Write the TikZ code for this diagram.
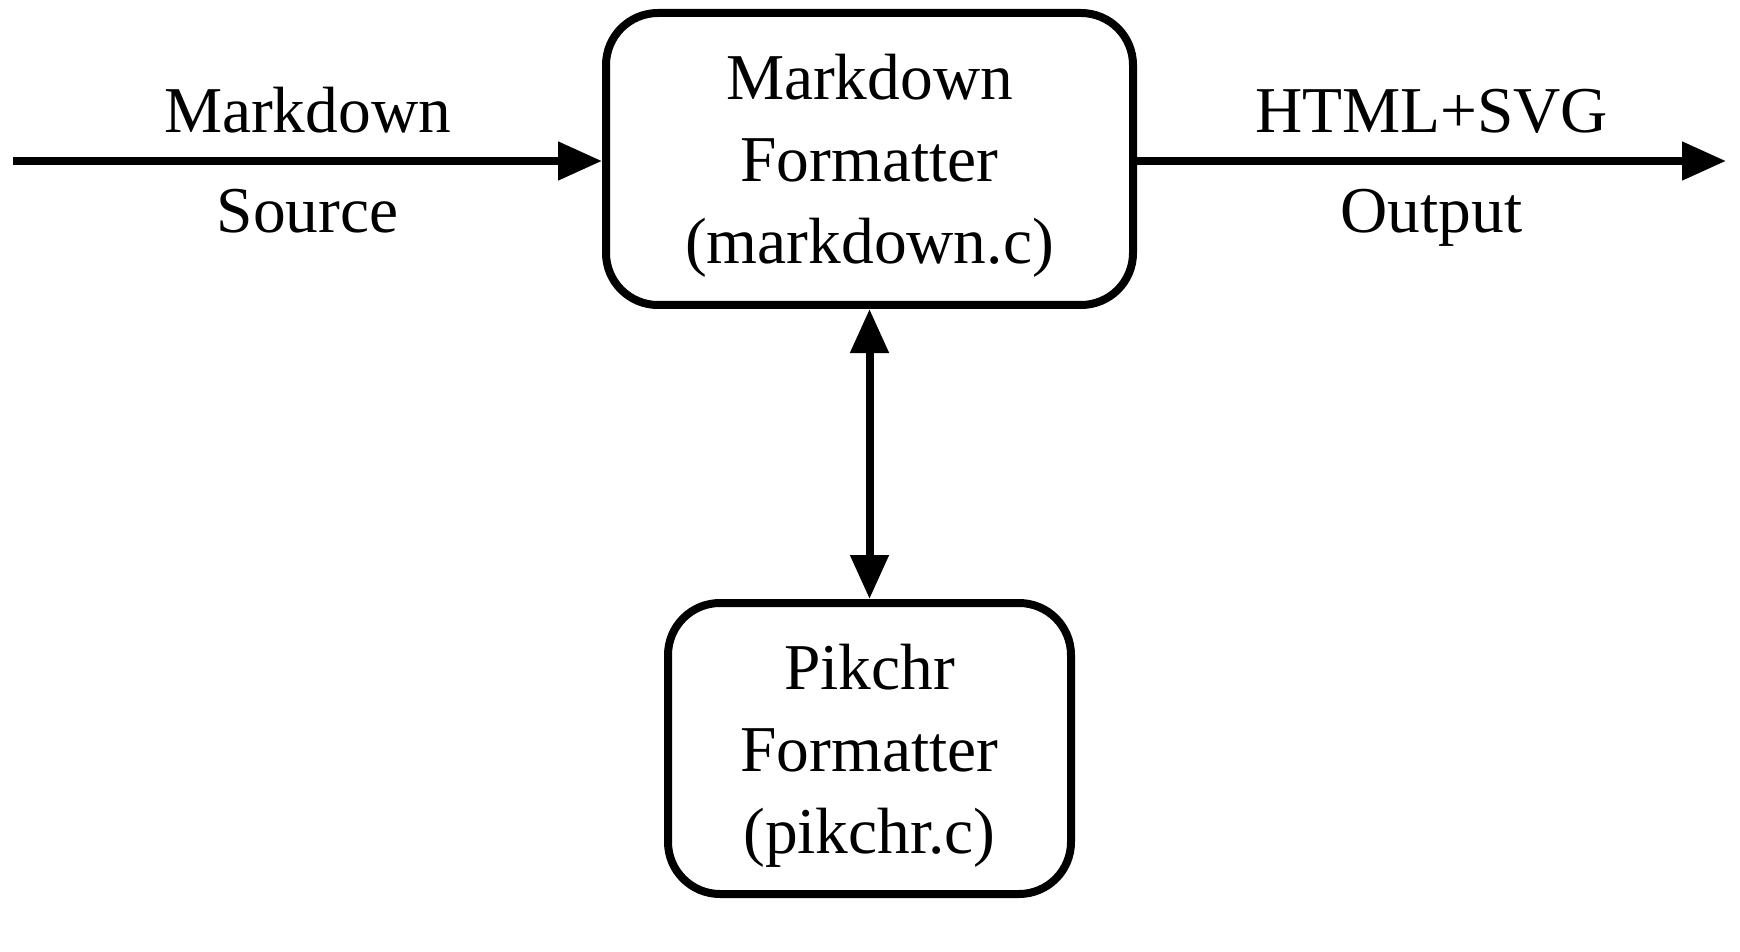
\documentclass[tikz,border=0pt]{standalone}
\usepackage{fontspec}
\setmainfont{Liberation Serif}
\usetikzlibrary{arrows.meta,positioning}

\tikzset{
	fmtbox/.style={draw, line width=4pt, rounded corners=26pt, inner sep=0pt},
	fmttext/.style={align=center, inner sep=0pt, yshift=-3.5pt},
	flow/.style={line width=4pt, -{Triangle[length=22pt,width=18.5pt]}},
	biflow/.style={line width=4pt, {Triangle[length=22pt,width=18.5pt]}-{Triangle[length=22pt,width=18.5pt]}},
}

\begin{document}
\begin{tikzpicture}[x=0.5pt,y=-0.5pt,font=\fontsize{32.7}{41}\selectfont]
	%\draw[help lines] (0,0) grid[step=100] (1740,952);
	\useasboundingbox (0,0) rectangle (1740,952);
	\node[fmtbox, minimum width=263.5pt, minimum height=146pt] (md) at (869.5,159) {};
	\node[fmttext] (mdtext) at (md.center) {Markdown\\Formatter\\(markdown.c)};
	\node[fmtbox, minimum width=201.5pt, minimum height=145.5pt] (pik) at (869.5,748.5) {};
	\node[fmttext] (piktext) at (pik.center) {Pikchr\\Formatter\\(pikchr.c)};
	\coordinate (src) at (13,161);
	\coordinate (out) at (1726,161);
	\draw[flow] (src) -- (src -| md.west)
		node[midway, anchor=base, yshift=14pt] (srcup) {Markdown}
		node[midway, anchor=base, yshift=-36pt] (srcdown) {Source};
	\draw[flow] (out -| md.east) -- (out)
		node[midway, anchor=base, yshift=14pt] (outup) {HTML+SVG}
		node[midway, anchor=base, yshift=-36pt] (outdown) {Output};
	\draw[biflow] (md.south) -- (pik.north);
\end{tikzpicture}
\end{document}
